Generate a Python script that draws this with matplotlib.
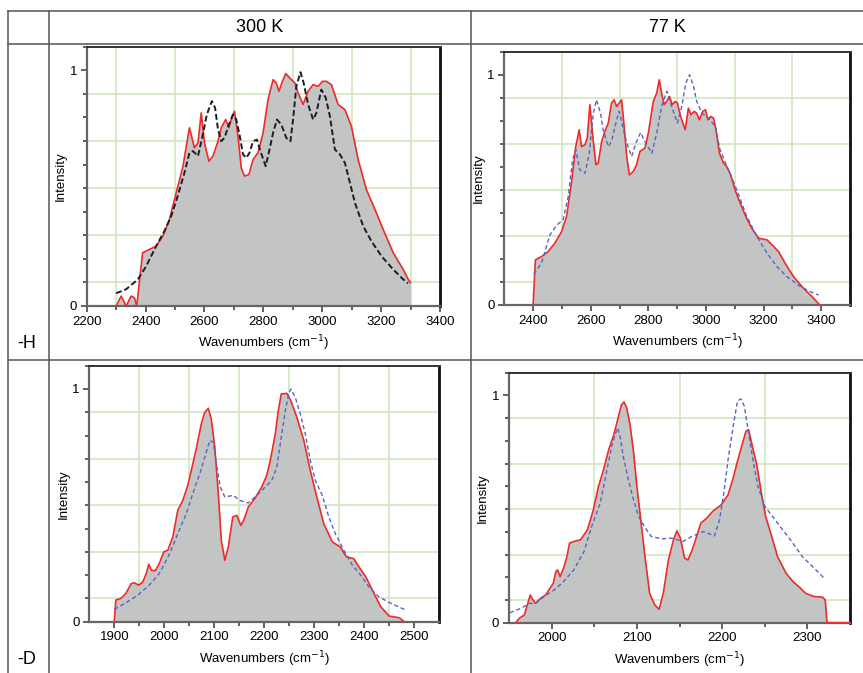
import numpy as np
import matplotlib
matplotlib.use('Agg')
import matplotlib.pyplot as plt
from matplotlib.lines import Line2D
from matplotlib.ticker import MultipleLocator, FixedLocator

plt.rcParams['font.family'] = ['Liberation Sans', 'DejaVu Sans']

W, H = 863, 673

# column / row titles
col_titles = ['300 K', '77 K']
row_titles = ['-H', '-D']

# 300 K, -H : red (filled) and black dashed
h300_x = [2300, 2317, 2334, 2351, 2362, 2370, 2390, 2413, 2436, 2459, 2481, 2504, 2527, 2549, 2566,
          2578, 2589, 2600, 2615, 2629, 2646, 2657, 2672, 2683, 2694, 2702, 2714, 2725, 2736, 2751,
          2765, 2782, 2799, 2816, 2833, 2844, 2853, 2865, 2876, 2890, 2907, 2918, 2935, 2952, 2969,
          2986, 3001, 3014, 3031, 3054, 3077, 3099, 3122, 3150, 3179, 3207, 3241, 3275, 3292, 3300]
h300_y = [0.0, 0.042, 0.0, 0.042, 0.035, 0.0, 0.226, 0.24, 0.254, 0.297, 0.367, 0.48, 0.593, 0.756, 0.671,
          0.692, 0.819, 0.692, 0.614, 0.636, 0.699, 0.756, 0.791, 0.756, 0.805, 0.826, 0.72, 0.586, 0.551, 0.558,
          0.621, 0.65, 0.734, 0.876, 0.96, 0.946, 0.911, 0.953, 0.986, 0.967, 0.946, 0.904, 0.855, 0.911, 0.939,
          0.932, 0.953, 0.953, 0.939, 0.855, 0.833, 0.763, 0.621, 0.494, 0.41, 0.325, 0.226, 0.155, 0.113, 0.1]
h300_dx = [2300, 2334, 2374, 2402, 2436, 2464, 2487, 2509, 2532, 2549, 2561, 2578, 2592, 2608, 2625,
           2636, 2646, 2657, 2668, 2683, 2697, 2708, 2719, 2731, 2742, 2753, 2765, 2778, 2790, 2808,
           2821, 2833, 2846, 2861, 2878, 2892, 2901, 2912, 2926, 2937, 2952, 2969, 2980, 2997, 3012,
           3026, 3043, 3060, 3077, 3094, 3111, 3139, 3167, 3201, 3241, 3275, 3292]
h300_dy = [0.054, 0.071, 0.113, 0.169, 0.254, 0.318, 0.381, 0.466, 0.565, 0.65, 0.657, 0.636, 0.713, 0.812, 0.869,
           0.841, 0.749, 0.699, 0.713, 0.77, 0.812, 0.791, 0.727, 0.643, 0.628, 0.65, 0.699, 0.706, 0.657, 0.593,
           0.664, 0.734, 0.791, 0.77, 0.713, 0.699, 0.791, 0.932, 0.992, 0.946, 0.855, 0.791, 0.819, 0.918, 0.883,
           0.805, 0.664, 0.643, 0.607, 0.523, 0.438, 0.339, 0.275, 0.212, 0.155, 0.113, 0.096]

# 77 K, -H : red (filled) and blue dashed
h77_x = [2400, 2408, 2429, 2452, 2475, 2499, 2516, 2533, 2548, 2560, 2568, 2580, 2588, 2597, 2606,
         2618, 2626, 2638, 2649, 2661, 2672, 2681, 2690, 2699, 2707, 2715, 2725, 2734, 2748, 2759,
         2771, 2788, 2800, 2817, 2829, 2838, 2846, 2855, 2864, 2873, 2883, 2893, 2901, 2912, 2928,
         2939, 2948, 2959, 2968, 2977, 2989, 2998, 3007, 3017, 3026, 3035, 3047, 3061, 3072, 3086,
         3101, 3119, 3136, 3159, 3183, 3212, 3235, 3252, 3275, 3304, 3339, 3374, 3395]
h77_y = [0.0, 0.196, 0.21, 0.232, 0.268, 0.319, 0.384, 0.529, 0.688, 0.761, 0.688, 0.696, 0.725, 0.87, 0.746,
         0.609, 0.616, 0.71, 0.754, 0.79, 0.877, 0.891, 0.862, 0.877, 0.891, 0.79, 0.645, 0.565, 0.58, 0.609,
         0.667, 0.681, 0.746, 0.884, 0.92, 0.978, 0.92, 0.87, 0.884, 0.906, 0.87, 0.884, 0.877, 0.819, 0.761,
         0.855, 0.826, 0.841, 0.833, 0.804, 0.841, 0.848, 0.804, 0.819, 0.812, 0.761, 0.659, 0.616, 0.601, 0.565,
         0.5, 0.442, 0.391, 0.333, 0.29, 0.283, 0.254, 0.232, 0.181, 0.123, 0.072, 0.029, 0.0]
h77_dx = [2402, 2429, 2458, 2483, 2504, 2522, 2537, 2548, 2562, 2580, 2595, 2609, 2620, 2634, 2643,
          2661, 2672, 2690, 2699, 2711, 2725, 2742, 2757, 2773, 2788, 2812, 2829, 2846, 2864, 2881,
          2901, 2916, 2930, 2943, 2957, 2968, 2986, 3009, 3032, 3049, 3078, 3107, 3142, 3177, 3212,
          3246, 3281, 3328, 3362, 3391]
h77_dy = [0.135, 0.181, 0.304, 0.348, 0.37, 0.471, 0.63, 0.674, 0.587, 0.572, 0.659, 0.833, 0.891, 0.833, 0.761,
          0.688, 0.71, 0.804, 0.841, 0.775, 0.703, 0.645, 0.703, 0.749, 0.71, 0.659, 0.746, 0.862, 0.928, 0.862,
          0.79, 0.862, 0.964, 1.0, 0.949, 0.884, 0.833, 0.812, 0.775, 0.674, 0.587, 0.5, 0.384, 0.297, 0.225,
          0.167, 0.123, 0.08, 0.058, 0.043]

# 300 K, -D
d300_x = [1900, 1903, 1913, 1923, 1934, 1940, 1949, 1957, 1964, 1969, 1974, 1982, 1990, 1999, 2007,
          2017, 2027, 2037, 2047, 2054, 2064, 2074, 2081, 2088, 2094, 2101, 2108, 2114, 2121, 2128,
          2137, 2145, 2153, 2159, 2168, 2181, 2195, 2205, 2212, 2222, 2228, 2234, 2245, 2253, 2265,
          2279, 2292, 2305, 2319, 2336, 2352, 2364, 2379, 2389, 2403, 2416, 2433, 2450, 2470, 2480]
d300_y = [0.0, 0.093, 0.1, 0.121, 0.164, 0.167, 0.157, 0.171, 0.207, 0.247, 0.221, 0.219, 0.25, 0.3, 0.307,
          0.364, 0.479, 0.521, 0.586, 0.65, 0.743, 0.85, 0.9, 0.917, 0.871, 0.75, 0.55, 0.35, 0.264, 0.321,
          0.45, 0.457, 0.414, 0.436, 0.493, 0.529, 0.579, 0.629, 0.693, 0.807, 0.907, 0.979, 0.981, 0.95, 0.879,
          0.779, 0.65, 0.536, 0.421, 0.343, 0.321, 0.279, 0.271, 0.236, 0.193, 0.136, 0.064, 0.024, 0.017, 0.0]
d300_dx = [1900, 1923, 1947, 1970, 1990, 2011, 2027, 2044, 2058, 2071, 2084, 2091, 2098, 2104, 2112,
           2121, 2138, 2151, 2168, 2185, 2202, 2215, 2225, 2235, 2242, 2249, 2253, 2262, 2272, 2282,
           2292, 2302, 2316, 2329, 2342, 2359, 2376, 2393, 2409, 2429, 2453, 2483]
d300_dy = [0.053, 0.081, 0.114, 0.157, 0.207, 0.293, 0.379, 0.464, 0.557, 0.636, 0.729, 0.779, 0.771, 0.679, 0.579,
           0.536, 0.543, 0.521, 0.51, 0.543, 0.579, 0.607, 0.664, 0.807, 0.907, 0.979, 1.0, 0.964, 0.893, 0.807,
           0.693, 0.607, 0.543, 0.45, 0.379, 0.307, 0.243, 0.2, 0.15, 0.107, 0.079, 0.05]

# 77 K, -D
d77_x = [1958, 1962, 1968, 1972, 1975, 1977, 1981, 1987, 1993, 1998, 2002, 2005, 2007, 2010, 2014,
         2018, 2021, 2026, 2034, 2042, 2049, 2055, 2061, 2067, 2073, 2078, 2082, 2085, 2088, 2092,
         2096, 2100, 2105, 2110, 2115, 2121, 2126, 2131, 2137, 2143, 2147, 2151, 2156, 2160, 2165,
         2170, 2175, 2182, 2189, 2199, 2207, 2213, 2218, 2224, 2228, 2231, 2235, 2241, 2246, 2251,
         2257, 2265, 2275, 2283, 2290, 2298, 2308, 2318, 2321, 2323, 2350]
d77_y = [0.0, 0.019, 0.034, 0.085, 0.122, 0.107, 0.085, 0.107, 0.122, 0.151, 0.174, 0.225, 0.232, 0.203, 0.24,
         0.291, 0.35, 0.357, 0.365, 0.409, 0.497, 0.6, 0.674, 0.762, 0.828, 0.901, 0.96, 0.971, 0.946, 0.872,
         0.754, 0.6, 0.438, 0.276, 0.129, 0.078, 0.059, 0.129, 0.276, 0.365, 0.404, 0.372, 0.284, 0.276, 0.321,
         0.379, 0.438, 0.46, 0.49, 0.519, 0.563, 0.637, 0.71, 0.791, 0.843, 0.85, 0.784, 0.688, 0.571, 0.468,
         0.394, 0.291, 0.218, 0.181, 0.159, 0.129, 0.115, 0.112, 0.1, 0.0, 0.0]
d77_dx = [1951, 1964, 1974, 1981, 1991, 2003, 2014, 2026, 2038, 2047, 2057, 2065, 2071, 2077, 2080,
          2084, 2090, 2096, 2102, 2110, 2117, 2129, 2141, 2154, 2164, 2178, 2191, 2197, 2202, 2207,
          2213, 2218, 2222, 2226, 2231, 2236, 2242, 2250, 2259, 2271, 2283, 2294, 2308, 2321]
d77_dy = [0.044, 0.063, 0.085, 0.085, 0.115, 0.144, 0.181, 0.232, 0.313, 0.424, 0.526, 0.674, 0.784, 0.857, 0.828,
          0.732, 0.629, 0.541, 0.468, 0.416, 0.379, 0.369, 0.372, 0.357, 0.379, 0.401, 0.382, 0.453, 0.571, 0.718,
          0.865, 0.975, 0.985, 0.953, 0.835, 0.718, 0.6, 0.512, 0.468, 0.409, 0.35, 0.291, 0.24, 0.191]

# x ranges and labelled ticks of each panel
h300_xlim, h300_ticks = (2200, 3400), [2200, 2400, 2600, 2800, 3000, 3200, 3400]
h77_xlim, h77_ticks = (2300, 3500), [2400, 2600, 2800, 3000, 3200, 3400]
d300_xlim, d300_ticks = (1850, 2550), [1900, 2000, 2100, 2200, 2300, 2400, 2500]
d77_xlim, d77_ticks = (1950, 2350), [2000, 2100, 2200, 2300]

fig = plt.figure(figsize=(W / 100, H / 100), dpi=100)


def rect(left, top, right, bottom):
    return [left / W, 1 - bottom / H, (right - left) / W, (bottom - top) / H]


def line(x0, y0, x1, y1):
    fig.add_artist(Line2D([x0 / W, x1 / W], [1 - y0 / H, 1 - y1 / H], transform=fig.transFigure,
                          color='#555555', lw=1.1))


# table frame
line(8.3, 11, W, 11)
line(8.3, 43.5, W, 43.5)
line(8.3, 360, W, 360)
line(8.3, 11, 8.3, H)
line(48.7, 11, 48.7, H)
line(470.7, 11, 470.7, H)

fig.text(259.7 / W, 1 - 27 / H, col_titles[0], ha='center', va='center', fontsize=13)
fig.text(667 / W, 1 - 27 / H, col_titles[1], ha='center', va='center', fontsize=13)
fig.text(27 / W, 1 - 344 / H, row_titles[0], ha='center', va='center', fontsize=13)
fig.text(27 / W, 1 - 660 / H, row_titles[1], ha='center', va='center', fontsize=13)

GRID = '#cfe8bf'


def panel(pos, xlim, ticks, rx, ry, dx, dy, dash_col, dash_lw, dash_pat):
    ax = fig.add_axes(pos)
    ax.set_xlim(*xlim)
    ax.set_ylim(0, 1.1)
    step = ticks[1] - ticks[0]
    grid_x = np.arange(ticks[0] - step / 2, xlim[1], step)
    grid_x = grid_x[(grid_x > xlim[0]) & (grid_x < xlim[1])]
    for gx in grid_x:
        ax.axvline(gx, color=GRID, lw=1.2, zorder=0)
    for gy in [0.1, 0.3, 0.5, 0.7, 0.9]:
        ax.axhline(gy, color=GRID, lw=1.2, zorder=0)
    ax.fill_between(rx, ry, 0, color='#c3c5c5', lw=0, zorder=1)
    ax.plot(rx, ry, color='#ee2a2a', lw=1.2, zorder=3)
    ax.plot(dx, dy, color=dash_col, lw=dash_lw, dashes=dash_pat, zorder=4)

    ax.xaxis.set_major_locator(FixedLocator(ticks))
    ax.xaxis.set_minor_locator(FixedLocator(list(grid_x)))
    ax.yaxis.set_major_locator(FixedLocator([0, 1]))
    ax.yaxis.set_minor_locator(MultipleLocator(0.1))
    ax.set_yticklabels(['0', '1'])
    ax.tick_params(which='major', length=4, width=1.2, color='#444444', labelsize=9.5, pad=3)
    ax.tick_params(which='minor', length=3, width=1.2, color='#444444')
    ax.set_xlabel('Wavenumbers (cm$^{-1}$)', fontsize=9.5, labelpad=4)
    ax.set_ylabel('Intensity', fontsize=9.5, labelpad=2)
    ax.spines['left'].set_color('#666666')
    ax.spines['left'].set_linewidth(1.6)
    ax.spines['bottom'].set_color('#666666')
    ax.spines['bottom'].set_linewidth(1.6)
    ax.spines['top'].set_color('#333333')
    ax.spines['top'].set_linewidth(1.4)
    ax.spines['right'].set_color('#111111')
    ax.spines['right'].set_linewidth(2.0)
    return ax


panel(rect(86.7, 46.7, 440, 306), h300_xlim, h300_ticks, h300_x, h300_y, h300_dx, h300_dy,
      '#1c1c28', 1.4, (3, 1.5))
panel(rect(504.3, 51.7, 850, 305), h77_xlim, h77_ticks, h77_x, h77_y, h77_dx, h77_dy,
      '#5a63c0', 1.0, (3, 2))
panel(rect(89.3, 365.7, 439.3, 621.7), d300_xlim, d300_ticks, d300_x, d300_y, d300_dx, d300_dy,
      '#5a63c0', 1.0, (3, 2))
panel(rect(509, 372.7, 850, 622.7), d77_xlim, d77_ticks, d77_x, d77_y, d77_dx, d77_dy,
      '#5a63c0', 1.0, (3, 2))

fig.savefig('out.png', dpi=100)
